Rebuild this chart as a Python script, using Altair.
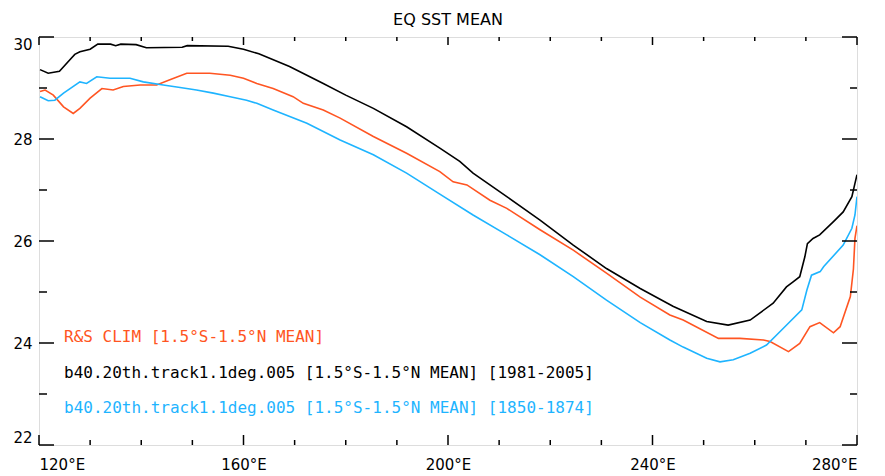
import altair as alt
import pandas as pd

# ---- data ----
rs_lon = [120.2, 121.2, 122.8, 124.8, 126.7, 128.0, 130.0, 132.3, 134.5, 136.5, 139.8, 143.0,
          145.6, 148.9, 153.4, 157.4, 160.0, 162.6, 165.8, 169.7, 171.7, 175.6, 178.9, 185.4,
          191.9, 198.4, 201.0, 203.7, 208.2, 211.5, 218.0, 224.5, 231.0, 237.6, 243.4, 246.0,
          252.9, 257.1, 261.7, 263.0, 266.6, 268.8, 270.8, 272.7, 275.4, 276.7, 278.7, 279.3,
          279.6, 280.0]
rs_val = [28.93, 28.96, 28.86, 28.63, 28.50, 28.60, 28.80, 28.99, 28.96, 29.03, 29.06, 29.06,
          29.16, 29.29, 29.29, 29.25, 29.19, 29.09, 28.99, 28.83, 28.70, 28.57, 28.41, 28.05,
          27.72, 27.36, 27.16, 27.10, 26.80, 26.64, 26.22, 25.82, 25.37, 24.90, 24.55, 24.45,
          24.09, 24.09, 24.06, 24.03, 23.83, 23.99, 24.32, 24.40, 24.20, 24.32, 24.91, 25.45,
          26.05, 26.30]

mod_lon = [120.2, 121.8, 124.0, 126.0, 127.0, 128.0, 130.0, 131.5, 134.0, 135.0, 136.0, 139.0,
           141.0, 148.0, 149.0, 157.0, 160.0, 163.0, 169.0, 175.6, 180.0, 185.4, 191.9, 198.4,
           202.3, 204.9, 211.5, 218.0, 224.5, 231.0, 237.6, 244.0, 250.6, 254.8, 259.1, 263.6,
           266.2, 267.5, 268.8, 269.8, 270.3, 271.4, 272.7, 275.4, 277.3, 279.0, 279.6, 280.0]
mod_val = [29.36, 29.29, 29.33, 29.55, 29.66, 29.71, 29.76, 29.86, 29.86, 29.83, 29.86, 29.85,
           29.79, 29.80, 29.83, 29.82, 29.76, 29.67, 29.42, 29.09, 28.86, 28.60, 28.24, 27.82,
           27.56, 27.33, 26.87, 26.41, 25.92, 25.46, 25.07, 24.72, 24.42, 24.35, 24.45, 24.78,
           25.10, 25.20, 25.30, 25.69, 25.95, 26.05, 26.12, 26.38, 26.57, 26.87, 27.13, 27.30]

pre_lon = [120.2, 121.8, 123.1, 124.8, 128.0, 129.3, 131.3, 133.9, 137.8, 140.4, 144.3, 147.6,
           150.8, 154.1, 157.4, 160.6, 162.6, 165.8, 172.4, 178.9, 185.4, 191.9, 198.4, 204.9,
           211.5, 218.0, 224.5, 231.0, 237.6, 243.4, 246.0, 250.6, 253.2, 255.8, 259.1, 262.3,
           265.6, 269.2, 270.2, 271.1, 272.8, 273.5, 277.3, 279.0, 279.6, 280.0]
pre_val = [28.83, 28.75, 28.76, 28.90, 29.12, 29.09, 29.22, 29.19, 29.19, 29.12, 29.06, 29.01,
           28.96, 28.90, 28.83, 28.76, 28.70, 28.57, 28.31, 27.98, 27.69, 27.33, 26.92, 26.51,
           26.12, 25.73, 25.30, 24.84, 24.40, 24.06, 23.92, 23.70, 23.63, 23.67, 23.80, 23.96,
           24.29, 24.65, 25.04, 25.33, 25.40, 25.50, 25.92, 26.25, 26.51, 26.87]

series_names = ["R&S CLIM", "b40 1981-2005", "b40 1850-1874"]
series_colors = ["#FF5522", "#000000", "#1EB4FF"]
legend_labels = [
    "R&S CLIM [1.5°S-1.5°N MEAN]",
    "b40.20th.track1.1deg.005 [1.5°S-1.5°N MEAN] [1981-2005]",
    "b40.20th.track1.1deg.005 [1.5°S-1.5°N MEAN] [1850-1874]",
]

x_major = [120, 160, 200, 240, 280]
x_minor = [130, 140, 150, 170, 180, 190, 210, 220, 230, 250, 260, 270]
y_major = [22, 24, 26, 28, 30]
y_minor = [23, 25, 27, 29]

W, H = 818, 408
FONT = "DejaVu Sans"
MONO = "DejaVu Sans Mono"

rows = []
for name, lons, vals in zip(series_names, [rs_lon, mod_lon, pre_lon], [rs_val, mod_val, pre_val]):
    for i, (lo, v) in enumerate(zip(lons, vals)):
        rows.append({"series": name, "lon": lo, "sst": v, "order": i})
df = pd.DataFrame(rows)

xs = alt.Scale(domain=[120, 280], nice=False, zero=False)
ys = alt.Scale(domain=[22, 30], nice=False, zero=False)

lines = alt.Chart(df).mark_line(strokeWidth=1.6, clip=True).encode(
    x=alt.X("lon:Q", scale=xs,
            axis=alt.Axis(values=x_major, labelExpr="datum.value + '°E'", title=None,
                          ticks=False, domain=False, grid=False, labelFontSize=15,
                          labelFont=FONT, labelColor="black", labelPadding=12)),
    y=alt.Y("sst:Q", scale=ys,
            axis=alt.Axis(values=y_major, title=None, ticks=False, domain=False, grid=False,
                          labelFontSize=15, labelFont=FONT, labelColor="black",
                          labelPadding=7, labelFlush=True)),
    color=alt.Color("series:N", scale=alt.Scale(domain=series_names, range=series_colors),
                    legend=None),
    order="order:Q",
    detail="series:N",
)

dxmaj = pd.DataFrame({"v": x_major})
dxmin = pd.DataFrame({"v": x_minor})
dymaj = pd.DataFrame({"v": y_major})
dymin = pd.DataFrame({"v": y_minor})

def xt(d, y0, y1):
    return alt.Chart(d).mark_rule(color="black", strokeWidth=1.5).encode(
        x=alt.X("v:Q", scale=xs), y=alt.value(y0), y2=alt.value(y1))

def yt(d, x0, x1):
    return alt.Chart(d).mark_rule(color="black", strokeWidth=1.5).encode(
        y=alt.Y("v:Q", scale=ys), x=alt.value(x0), x2=alt.value(x1))

ticks = [
    xt(dxmaj, H, H - 10), xt(dxmin, H, H - 5),
    xt(dxmaj, 0, 8), xt(dxmin, 0, 4),
    yt(dymaj, 0, 15), yt(dymin, 0, 8),
    yt(dymaj, W, W - 15), yt(dymin, W, W - 7),
]

leg = pd.DataFrame({"label": legend_labels, "series": series_names, "ypos": [300, 336, 371]})
texts = alt.Chart(leg).mark_text(align="left", baseline="middle", fontSize=16, font=MONO,
                                 x=25).encode(
    y=alt.Y("ypos:Q", scale=None),
    text="label:N",
    color=alt.Color("series:N", scale=alt.Scale(domain=series_names, range=series_colors),
                    legend=None),
)

chart = alt.layer(lines, *ticks, texts).properties(
    width=W, height=H,
    title=alt.TitleParams("EQ SST MEAN", fontSize=16, font=FONT, fontWeight="normal",
                          anchor="middle", offset=8, color="black"),
    autosize=alt.AutoSizeParams(type="none"),
    padding={"left": 31, "top": 29, "right": 20, "bottom": 40},
).configure_view(stroke="black", strokeWidth=1.5).configure(background="white")

chart.save("out.html", embed_options={"renderer": "svg", "actions": False})
